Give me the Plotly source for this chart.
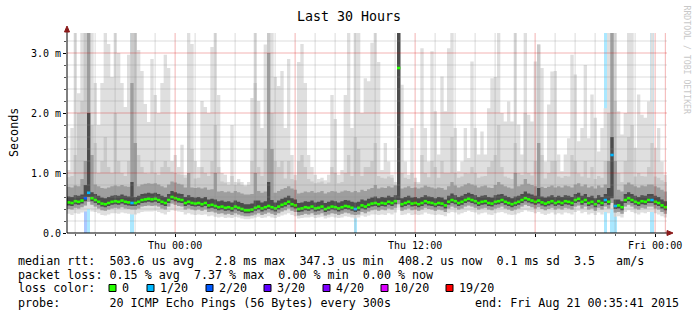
import pandas as pd
import plotly.graph_objects as go

# ---------------- data (10-minute columns) ----------------
START = pd.Timestamp("2015-08-19 18:35:41")
END = pd.Timestamp("2015-08-21 00:35:41")
STEP_MIN = 10

# median round trip time, ms
rtt_median = [
    0.51, 0.50, 0.53, 0.52, 0.54, 0.58, 0.67, 0.58, 0.55, 0.52,
    0.49, 0.48, 0.50, 0.52, 0.53, 0.52, 0.54, 0.52, 0.51, 0.50,
    0.50, 0.52, 0.55, 0.56, 0.57, 0.56, 0.57, 0.55, 0.52, 0.50,
    0.55, 0.60, 0.58, 0.56, 0.55, 0.50, 0.52, 0.50, 0.49, 0.50,
    0.48, 0.50, 0.46, 0.47, 0.45, 0.43, 0.44, 0.42, 0.43, 0.41,
    0.44, 0.42, 0.40, 0.38, 0.38, 0.39, 0.42, 0.44, 0.41, 0.43,
    0.45, 0.43, 0.41, 0.44, 0.47, 0.49, 0.52, 0.48, 0.46, 0.40,
    0.41, 0.43, 0.42, 0.44, 0.41, 0.42, 0.44, 0.40, 0.42, 0.44,
    0.43, 0.41, 0.43, 0.45, 0.44, 0.42, 0.40, 0.42, 0.46, 0.44,
    0.47, 0.49, 0.50, 0.48, 0.50, 0.49, 0.52, 0.50, 0.53, 2.75,
    0.48, 0.50, 0.52, 0.49, 0.50, 0.48, 0.50, 0.53, 0.51, 0.50,
    0.48, 0.50, 0.49, 0.46, 0.52, 0.55, 0.53, 0.50, 0.52, 0.55,
    0.57, 0.55, 0.53, 0.50, 0.52, 0.53, 0.50, 0.49, 0.52, 0.53,
    0.55, 0.52, 0.50, 0.48, 0.50, 0.52, 0.55, 0.58, 0.56, 0.54,
    0.52, 0.54, 0.51, 0.49, 0.51, 0.53, 0.50, 0.52, 0.50, 0.53,
    0.52, 0.50, 0.55, 0.57, 0.52, 0.55, 0.50, 0.52, 0.48, 0.53,
    0.50, 0.55, 0.52, 1.30, 0.45, 0.46, 0.43, 0.55, 0.58, 0.55,
    0.52, 0.50, 0.53, 0.52, 0.55, 0.55, 0.52, 0.50, 0.46, 0.43,
]

# fastest ping
rtt_min = [
    0.32, 0.30, 0.33, 0.32, 0.34, 0.36, 0.40, 0.36, 0.35, 0.33,
    0.30, 0.29, 0.31, 0.33, 0.33, 0.32, 0.34, 0.33, 0.32, 0.31,
    0.31, 0.33, 0.35, 0.36, 0.36, 0.36, 0.37, 0.35, 0.33, 0.31,
    0.35, 0.38, 0.37, 0.36, 0.35, 0.31, 0.33, 0.31, 0.30, 0.31,
    0.30, 0.31, 0.28, 0.29, 0.27, 0.26, 0.27, 0.25, 0.26, 0.25,
    0.27, 0.26, 0.24, 0.23, 0.23, 0.24, 0.26, 0.27, 0.25, 0.26,
    0.28, 0.26, 0.25, 0.27, 0.29, 0.31, 0.33, 0.30, 0.28, 0.24,
    0.25, 0.26, 0.26, 0.27, 0.25, 0.26, 0.27, 0.24, 0.26, 0.27,
    0.26, 0.25, 0.26, 0.28, 0.27, 0.26, 0.24, 0.26, 0.29, 0.27,
    0.29, 0.31, 0.31, 0.30, 0.31, 0.30, 0.33, 0.31, 0.34, 0.42,
    0.30, 0.31, 0.33, 0.30, 0.31, 0.30, 0.31, 0.34, 0.32, 0.31,
    0.30, 0.31, 0.30, 0.28, 0.33, 0.35, 0.34, 0.31, 0.33, 0.35,
    0.37, 0.35, 0.34, 0.31, 0.33, 0.34, 0.31, 0.30, 0.33, 0.34,
    0.35, 0.33, 0.31, 0.30, 0.31, 0.33, 0.35, 0.38, 0.36, 0.35,
    0.33, 0.35, 0.32, 0.30, 0.32, 0.34, 0.31, 0.33, 0.31, 0.34,
    0.33, 0.31, 0.35, 0.37, 0.33, 0.35, 0.31, 0.33, 0.30, 0.34,
    0.31, 0.35, 0.33, 0.40, 0.27, 0.28, 0.26, 0.35, 0.38, 0.35,
    0.33, 0.31, 0.34, 0.33, 0.35, 0.35, 0.33, 0.31, 0.28, 0.26,
]

# lower smoke (roughly 2nd-3rd fastest)
rtt_lo = [
    0.40, 0.39, 0.42, 0.41, 0.43, 0.46, 0.52, 0.47, 0.44, 0.41,
    0.38, 0.37, 0.39, 0.41, 0.42, 0.41, 0.43, 0.41, 0.40, 0.39,
    0.39, 0.41, 0.44, 0.45, 0.46, 0.45, 0.46, 0.44, 0.41, 0.39,
    0.44, 0.49, 0.47, 0.45, 0.44, 0.39, 0.41, 0.39, 0.38, 0.39,
    0.37, 0.39, 0.35, 0.36, 0.34, 0.32, 0.33, 0.31, 0.32, 0.30,
    0.33, 0.31, 0.29, 0.28, 0.28, 0.29, 0.31, 0.33, 0.30, 0.32,
    0.34, 0.32, 0.30, 0.33, 0.36, 0.38, 0.41, 0.37, 0.35, 0.29,
    0.30, 0.32, 0.31, 0.33, 0.30, 0.31, 0.33, 0.29, 0.31, 0.33,
    0.32, 0.30, 0.32, 0.34, 0.33, 0.31, 0.30, 0.31, 0.35, 0.33,
    0.36, 0.38, 0.39, 0.37, 0.39, 0.38, 0.41, 0.39, 0.42, 0.48,
    0.37, 0.39, 0.41, 0.38, 0.39, 0.37, 0.39, 0.42, 0.40, 0.39,
    0.37, 0.39, 0.38, 0.35, 0.41, 0.44, 0.42, 0.39, 0.41, 0.44,
    0.46, 0.44, 0.42, 0.39, 0.41, 0.42, 0.39, 0.38, 0.41, 0.42,
    0.44, 0.41, 0.39, 0.37, 0.39, 0.41, 0.44, 0.47, 0.45, 0.43,
    0.41, 0.43, 0.40, 0.38, 0.40, 0.42, 0.39, 0.41, 0.39, 0.42,
    0.41, 0.39, 0.44, 0.46, 0.41, 0.44, 0.39, 0.41, 0.37, 0.42,
    0.39, 0.44, 0.41, 0.50, 0.34, 0.35, 0.32, 0.44, 0.47, 0.44,
    0.41, 0.39, 0.42, 0.41, 0.44, 0.44, 0.41, 0.39, 0.35, 0.32,
]

# lower quartile
rtt_q1 = [
    0.46, 0.45, 0.48, 0.47, 0.49, 0.53, 0.60, 0.53, 0.50, 0.47,
    0.44, 0.43, 0.45, 0.47, 0.48, 0.47, 0.49, 0.47, 0.46, 0.45,
    0.45, 0.47, 0.50, 0.51, 0.52, 0.51, 0.52, 0.50, 0.47, 0.45,
    0.50, 0.55, 0.53, 0.51, 0.50, 0.45, 0.47, 0.45, 0.44, 0.45,
    0.43, 0.45, 0.41, 0.42, 0.40, 0.38, 0.39, 0.37, 0.38, 0.36,
    0.39, 0.37, 0.35, 0.33, 0.33, 0.34, 0.37, 0.39, 0.36, 0.38,
    0.40, 0.38, 0.36, 0.39, 0.42, 0.44, 0.47, 0.43, 0.41, 0.35,
    0.36, 0.38, 0.37, 0.39, 0.36, 0.37, 0.39, 0.35, 0.37, 0.39,
    0.38, 0.36, 0.38, 0.40, 0.39, 0.37, 0.35, 0.37, 0.41, 0.39,
    0.42, 0.44, 0.45, 0.43, 0.45, 0.44, 0.47, 0.45, 0.48, 0.55,
    0.43, 0.45, 0.47, 0.44, 0.45, 0.43, 0.45, 0.48, 0.46, 0.45,
    0.43, 0.45, 0.44, 0.41, 0.47, 0.50, 0.48, 0.45, 0.47, 0.50,
    0.52, 0.50, 0.48, 0.45, 0.47, 0.48, 0.45, 0.44, 0.47, 0.48,
    0.50, 0.47, 0.45, 0.43, 0.45, 0.47, 0.50, 0.53, 0.51, 0.49,
    0.47, 0.49, 0.46, 0.44, 0.46, 0.48, 0.45, 0.47, 0.45, 0.48,
    0.47, 0.45, 0.50, 0.52, 0.47, 0.50, 0.45, 0.47, 0.43, 0.48,
    0.45, 0.50, 0.47, 0.58, 0.40, 0.41, 0.38, 0.50, 0.53, 0.50,
    0.47, 0.45, 0.48, 0.47, 0.50, 0.50, 0.47, 0.45, 0.41, 0.38,
]

# upper quartile
rtt_q3 = [
    0.61, 0.60, 0.63, 0.62, 0.64, 0.80, 2.00, 0.68, 0.65, 0.62,
    0.59, 0.58, 0.60, 0.62, 0.63, 0.62, 0.64, 0.62, 0.61, 0.85,
    0.60, 0.62, 0.65, 0.66, 0.67, 0.66, 0.67, 0.65, 0.62, 0.60,
    0.65, 0.70, 0.68, 0.66, 0.65, 0.60, 0.63, 0.60, 0.59, 0.60,
    0.58, 0.60, 0.56, 0.57, 0.56, 0.53, 0.54, 0.52, 0.53, 0.51,
    0.54, 0.52, 0.50, 0.48, 0.48, 0.49, 0.54, 0.54, 0.51, 0.53,
    0.85, 0.55, 0.51, 0.54, 0.57, 0.59, 0.62, 0.58, 0.56, 0.50,
    0.51, 0.53, 0.52, 0.54, 0.51, 0.52, 0.54, 0.50, 0.52, 0.54,
    0.53, 0.51, 0.53, 0.55, 0.54, 0.52, 0.51, 0.52, 0.56, 0.54,
    0.57, 0.59, 0.61, 0.58, 0.60, 0.59, 0.62, 0.60, 0.63, 3.40,
    0.58, 0.60, 0.62, 0.59, 0.60, 0.58, 0.60, 0.63, 0.61, 0.60,
    0.58, 0.60, 0.59, 0.56, 0.62, 0.66, 0.63, 0.60, 0.62, 0.65,
    0.67, 0.65, 0.63, 0.60, 0.62, 0.63, 0.60, 0.59, 0.63, 0.64,
    0.65, 0.62, 0.60, 0.58, 0.61, 0.62, 0.65, 0.69, 0.66, 0.64,
    0.62, 0.75, 0.61, 0.59, 0.61, 0.63, 0.60, 0.62, 0.60, 0.63,
    0.62, 0.60, 0.65, 0.67, 0.62, 0.65, 0.60, 0.62, 0.58, 0.63,
    0.60, 0.65, 0.75, 1.60, 0.56, 0.56, 0.53, 0.65, 0.68, 0.65,
    0.62, 0.60, 0.63, 0.62, 0.65, 0.65, 0.62, 0.60, 0.56, 0.53,
]

# upper smoke (roughly 3rd slowest)
rtt_hi = [
    0.77, 0.76, 0.79, 0.78, 0.90, 1.20, 3.40, 1.30, 0.81, 0.78,
    0.75, 0.74, 0.76, 0.78, 0.79, 0.78, 0.80, 0.78, 0.77, 2.50,
    1.50, 0.78, 0.81, 0.82, 0.83, 0.82, 0.83, 0.81, 0.78, 0.76,
    0.81, 0.86, 0.84, 0.82, 0.81, 0.76, 1.00, 0.76, 0.75, 0.76,
    0.74, 0.76, 0.72, 0.73, 1.00, 0.69, 0.70, 0.68, 0.69, 0.67,
    0.70, 0.68, 0.66, 0.64, 0.64, 0.65, 1.00, 0.70, 0.67, 0.69,
    3.00, 1.40, 0.67, 0.70, 0.73, 0.75, 0.78, 0.74, 0.72, 0.66,
    0.67, 0.69, 0.68, 0.70, 0.67, 0.68, 0.70, 0.66, 0.68, 0.70,
    0.69, 0.67, 0.69, 0.71, 0.70, 0.68, 0.70, 0.68, 0.72, 0.70,
    0.73, 0.75, 0.80, 0.74, 0.76, 0.75, 0.78, 0.76, 0.79, 3.40,
    0.74, 0.76, 0.78, 0.75, 0.76, 0.74, 0.76, 0.79, 0.77, 0.76,
    0.74, 0.76, 0.75, 0.72, 0.78, 0.85, 0.79, 0.76, 0.78, 0.81,
    0.83, 0.81, 0.79, 0.76, 0.78, 0.79, 0.76, 0.75, 0.80, 0.85,
    0.81, 0.78, 0.76, 0.74, 1.00, 0.78, 0.81, 0.90, 0.82, 0.80,
    0.78, 1.50, 0.77, 0.75, 0.77, 0.79, 0.76, 0.78, 0.76, 0.79,
    0.78, 0.76, 0.81, 0.83, 0.78, 0.81, 0.76, 0.78, 0.74, 0.79,
    0.76, 0.81, 1.20, 3.40, 1.20, 0.72, 0.69, 0.81, 0.84, 0.81,
    0.78, 0.76, 0.79, 0.78, 0.81, 0.81, 0.78, 0.76, 0.72, 0.69,
]

# second slowest ping
rtt_2nd = [
    0.93, 0.95, 1.30, 2.00, 2.20, 3.40, 3.40, 1.80, 1.50, 1.00,
    1.20, 1.60, 1.10, 1.00, 2.00, 1.20, 1.00, 0.95, 1.20, 3.40,
    3.40, 1.30, 1.10, 1.00, 0.99, 1.20, 1.00, 0.97, 1.10, 1.20,
    1.10, 1.02, 1.00, 0.98, 0.97, 0.92, 2.00, 1.40, 0.91, 0.92,
    1.10, 1.00, 0.95, 1.20, 1.80, 1.10, 0.86, 0.84, 0.80, 0.95,
    0.80, 0.84, 0.80, 0.78, 0.80, 1.20, 2.50, 1.10, 0.95, 1.40,
    3.40, 2.00, 1.20, 1.10, 1.20, 0.91, 1.20, 0.90, 0.88, 1.20,
    1.30, 1.10, 0.90, 0.86, 0.83, 0.84, 0.86, 0.82, 0.84, 1.10,
    1.00, 0.83, 0.85, 1.00, 1.30, 0.95, 1.60, 1.40, 0.95, 1.10,
    1.10, 1.20, 1.50, 0.95, 0.92, 0.91, 0.94, 0.92, 0.80, 3.40,
    1.00, 0.92, 0.90, 1.00, 0.85, 0.82, 1.30, 1.00, 0.93, 1.20,
    1.10, 0.92, 1.20, 1.00, 1.00, 1.60, 1.00, 0.92, 0.94, 1.00,
    0.99, 1.10, 1.00, 0.92, 0.94, 0.95, 1.10, 1.20, 1.30, 1.80,
    1.10, 0.94, 0.92, 0.90, 1.50, 1.00, 0.97, 2.00, 1.00, 0.96,
    1.20, 3.14, 1.30, 0.91, 1.00, 1.20, 1.20, 0.94, 0.92, 0.95,
    0.94, 1.30, 1.20, 0.99, 0.94, 1.20, 0.92, 1.10, 0.90, 0.95,
    0.92, 1.20, 2.00, 3.40, 2.20, 1.00, 0.85, 1.20, 1.60, 1.80,
    0.94, 1.00, 0.95, 0.94, 1.10, 1.50, 0.94, 0.92, 0.88, 0.85,
]

# slowest ping
rtt_max = [
    1.05, 1.75, 3.40, 2.33, 3.40, 3.40, 3.40, 3.40, 2.50, 1.80,
    2.50, 3.40, 3.15, 2.60, 3.40, 3.00, 2.50, 2.10, 2.97, 3.40,
    3.40, 3.05, 2.70, 2.15, 1.85, 2.90, 2.30, 2.00, 2.50, 2.97,
    2.75, 1.20, 1.30, 1.10, 1.47, 0.97, 3.40, 3.15, 1.20, 1.10,
    2.20, 2.10, 2.00, 3.10, 3.40, 2.30, 1.00, 0.97, 0.85, 1.80,
    0.85, 0.90, 0.85, 0.80, 0.85, 2.25, 3.40, 2.20, 1.75, 3.14,
    3.40, 3.40, 2.60, 2.45, 2.70, 1.75, 2.90, 1.30, 0.97, 2.85,
    3.15, 2.50, 1.30, 1.10, 0.97, 0.90, 0.92, 0.88, 0.97, 2.30,
    1.90, 0.97, 1.05, 2.30, 3.40, 1.75, 3.40, 3.40, 2.00, 2.58,
    2.53, 3.17, 3.40, 2.85, 1.05, 1.50, 1.19, 0.97, 0.85, 3.40,
    2.47, 1.19, 0.97, 1.75, 0.92, 0.85, 3.08, 1.75, 1.19, 3.03,
    2.03, 1.31, 2.61, 2.03, 3.08, 3.40, 1.75, 1.03, 1.19, 1.75,
    1.25, 2.86, 1.75, 1.31, 1.69, 1.31, 2.08, 2.58, 2.60, 3.40,
    2.00, 1.86, 2.19, 1.86, 3.40, 1.81, 1.31, 3.40, 1.97, 1.86,
    2.86, 3.14, 2.75, 1.19, 2.14, 2.69, 2.70, 1.31, 1.03, 1.31,
    1.58, 2.97, 2.64, 1.53, 1.75, 2.80, 1.58, 2.31, 1.92, 1.36,
    1.75, 2.08, 3.40, 3.40, 3.40, 2.03, 1.64, 2.00, 3.40, 3.40,
    1.42, 2.31, 1.97, 1.92, 2.19, 3.40, 1.42, 1.75, 1.19, 0.97,
]

# lost pings out of 20
loss_count = [
    0, 0, 0, 0, 0, 2, 1, 0, 0, 0, 0, 0, 0, 0, 0, 0, 0, 0, 0, 1,
    0, 0, 0, 0, 0, 0, 0, 0, 0, 0, 0, 0, 0, 0, 0, 0, 0, 0, 0, 0,
    0, 0, 0, 0, 0, 0, 0, 0, 0, 0, 0, 0, 0, 0, 0, 0, 0, 0, 0, 0,
    0, 0, 0, 0, 0, 0, 0, 0, 0, 0, 0, 0, 0, 0, 0, 0, 0, 0, 0, 0,
    0, 0, 0, 0, 0, 0, 1, 0, 0, 0, 0, 0, 0, 0, 0, 0, 0, 0, 0, 0,
    0, 0, 0, 0, 0, 0, 0, 0, 0, 0, 0, 0, 0, 0, 0, 0, 0, 0, 0, 0,
    0, 0, 0, 0, 0, 0, 0, 0, 0, 0, 0, 0, 0, 0, 0, 0, 0, 0, 0, 0,
    0, 0, 0, 0, 0, 0, 0, 0, 0, 0, 0, 0, 0, 0, 0, 0, 0, 0, 0, 0,
    0, 1, 0, 1, 1, 0, 0, 0, 0, 0, 0, 0, 0, 0, 0, 1, 0, 0, 0, 0,
]

loss_levels = [0, 1, 2, 3, 4, 10, 19]
loss_labels = ["0", "1/20", "2/20", "3/20", "4/20", "10/20", "19/20"]
loss_colors = ["#26ff00", "#00b8ff", "#0059ff", "#5e00ff", "#7e00ff", "#dd00ff", "#ff0000"]

y_tick_values = [0, 1, 2, 3]
y_tick_labels = ["0.0", "1.0 m", "2.0 m", "3.0 m"]
x_tick_times = ["2015-08-20 00:00", "2015-08-20 06:00", "2015-08-20 12:00",
                "2015-08-20 18:00", "2015-08-21 00:00"]
x_tick_labels = ["Thu 00:00", "", "Thu 12:00", "", "Fri 00:00"]

legend_line1 = "median rtt:  503.6 us avg   2.8 ms max  347.3 us min  408.2 us now  0.1 ms sd  3.5   am/s"
legend_line2 = "packet loss: 0.15 % avg  7.37 % max  0.00 % min  0.00 % now"
legend_line3 = "loss color:"
legend_line4 = "probe:       20 ICMP Echo Pings (56 Bytes) every 300s"
legend_end = "end: Fri Aug 21 00:35:41 2015"

# ---------------- geometry ----------------
W_FIG, H_FIG = 697, 321
L, T, W, H = 67, 33, 600, 200
Y_TOP = 3.3333
MONO = "DejaVu Sans Mono"


def px(x):
    return (x - L) / W


def py(y):
    return (T + H - y) / H


def nb(s):
    return s.replace(" ", "\u00a0")


def loss_color(n):
    c = loss_colors[0]
    for lvl, col in zip(loss_levels, loss_colors):
        if n >= lvl:
            c = col
    return c


def rgba(hexc, a):
    h = hexc.lstrip("#")
    return "rgba(%d,%d,%d,%.2f)" % (int(h[0:2], 16), int(h[2:4], 16), int(h[4:6], 16), a)


n = len(rtt_median)
for arr in (rtt_min, rtt_lo, rtt_q1, rtt_q3, rtt_hi, rtt_2nd, rtt_max, loss_count):
    assert len(arr) == n, len(arr)

step = pd.Timedelta(minutes=STEP_MIN)
edges = [START + step * i for i in range(n + 1)]
centers = [START + step * (i + 0.5) for i in range(n)]

fig = go.Figure()

# loss background columns (bars are drawn below the smoke)
fig.add_trace(go.Bar(
    x=centers,
    y=[Y_TOP if c > 0 else None for c in loss_count],
    base=0,
    width=STEP_MIN * 60 * 1000,
    marker=dict(color=[rgba(loss_color(c), 0.33) for c in loss_count], line=dict(width=0)),
    hoverinfo="skip", showlegend=False,
))


def band(lower, upper, color):
    lo_ext = list(lower) + [lower[-1]]
    up_ext = list(upper) + [upper[-1]]
    fig.add_trace(go.Scatter(x=edges, y=lo_ext, mode="lines",
                             line=dict(width=0, shape="hv"),
                             hoverinfo="skip", showlegend=False))
    fig.add_trace(go.Scatter(x=edges, y=up_ext, mode="lines",
                             line=dict(width=0, shape="hv"),
                             fill="tonexty", fillcolor=color,
                             hoverinfo="skip", showlegend=False))


band(rtt_min, rtt_max, "#dfdfdf")
band(rtt_lo, rtt_2nd, "#cacaca")
band(rtt_lo, rtt_hi, "#9e9e9e")
band(rtt_q1, rtt_q3, "#4c4c4c")

# median segments coloured by loss
for lvl_col in loss_colors:
    xs, ys = [], []
    for i in range(n):
        if loss_color(loss_count[i]) == lvl_col:
            xs += [edges[i], edges[i + 1], None]
            ys += [rtt_median[i], rtt_median[i], None]
    if xs:
        fig.add_trace(go.Scatter(x=xs, y=ys, mode="lines",
                                 line=dict(color=lvl_col, width=2.6),
                                 hoverinfo="skip", showlegend=False))

# ---------------- grid (drawn on top, like rrdtool) ----------------
shapes = []
MINOR = "rgba(140,140,140,0.30)"
MAJOR = "rgba(215,0,0,0.30)"
for t in pd.date_range(START.ceil("h"), END, freq="h"):
    shapes.append(dict(type="line", xref="x", yref="paper", x0=t, x1=t, y0=0, y1=1,
                       line=dict(color=MAJOR if t.hour % 6 == 0 else MINOR, width=1),
                       layer="above"))
shapes.append(dict(type="line", xref="x", yref="paper",
                   x0=END - pd.Timedelta(minutes=5), x1=END - pd.Timedelta(minutes=5),
                   y0=0, y1=1, line=dict(color=MAJOR, width=1), layer="above"))
for k in range(1, 17):
    v = k * 0.2
    shapes.append(dict(type="line", xref="paper", yref="y", x0=0, x1=1, y0=v, y1=v,
                       line=dict(color=MAJOR if k % 5 == 0 else MINOR, width=1),
                       layer="above"))

# axis arrows
ARROW = "#8b1a1a"
shapes.append(dict(type="line", xref="paper", yref="paper", x0=px(67), x1=px(67),
                   y0=py(233), y1=py(29), line=dict(color="black", width=1), layer="above"))
shapes.append(dict(type="path", xref="paper", yref="paper",
                   path="M %f %f L %f %f L %f %f Z" % (px(64.5), py(32), px(69.5), py(32), px(67), py(26)),
                   fillcolor=ARROW, line=dict(color=ARROW, width=1), layer="above"))
shapes.append(dict(type="line", xref="paper", yref="paper", x0=px(67), x1=px(669),
                   y0=py(233), y1=py(233), line=dict(color="black", width=1), layer="above"))
shapes.append(dict(type="path", xref="paper", yref="paper",
                   path="M %f %f L %f %f L %f %f Z" % (px(667), py(230.5), px(667), py(235.5), px(673), py(233)),
                   fillcolor=ARROW, line=dict(color=ARROW, width=1), layer="above"))

# legend colour boxes
box_left = [109, 147, 206, 264, 323, 381, 446]
for bx, col in zip(box_left, loss_colors):
    shapes.append(dict(type="rect", xref="paper", yref="paper",
                       x0=px(bx), x1=px(bx + 7), y0=py(291.5), y1=py(284.5),
                       fillcolor=col, line=dict(color="black", width=1), layer="above"))

# ---------------- annotations ----------------
ann = []


def text(x, y, s, size, anchor="left", color="black", angle=0):
    ann.append(dict(x=px(x), y=py(y), xref="paper", yref="paper", text=nb(s),
                    showarrow=False, xanchor=anchor, yanchor="middle", textangle=angle,
                    font=dict(family=MONO, size=size, color=color), borderpad=0))


text(349, 16, "Last 30 Hours", 13.3, anchor="center")
text(14, 133, "Seconds", 11.7, anchor="center", angle=-90)
text(686.5, 60, "RRDTOOL / TOBI OETIKER", 8.2, anchor="center", color="#c8c8c8", angle=90)
text(16.7, 261, legend_line1, 11.7)
text(16.7, 275, legend_line2, 11.7)
text(16.7, 288, legend_line3, 11.7)
for bx, lab in zip(box_left, loss_labels):
    text(bx + 12, 288, lab, 11.7)
text(16.7, 302.5, legend_line4, 11.7)
text(680, 302.5, legend_end, 11.7, anchor="right")

fig.update_layout(
    width=W_FIG, height=H_FIG,
    margin=dict(l=L, r=W_FIG - L - W, t=T, b=H_FIG - T - H, pad=0),
    plot_bgcolor="white", paper_bgcolor="white",
    barmode="overlay", bargap=0,
    showlegend=False,
    shapes=shapes, annotations=ann,
    xaxis=dict(
        type="date", range=[START, END], showgrid=False, zeroline=False,
        showline=False, tickmode="array", tickvals=x_tick_times, ticktext=x_tick_labels,
        ticks="outside", ticklen=3, tickcolor="black",
        tickfont=dict(family=MONO, size=10, color="black"),
        minor=dict(dtick=3600000, tick0="2015-08-19 19:00", ticks="outside", ticklen=2,
                   tickcolor="#555555", showgrid=False),
    ),
    yaxis=dict(
        range=[0, Y_TOP], showgrid=False, zeroline=False, showline=False,
        tickmode="array", tickvals=y_tick_values, ticktext=y_tick_labels,
        ticks="outside", ticklen=3, tickcolor="black",
        tickfont=dict(family=MONO, size=10, color="black"),
        minor=dict(tickmode="linear", tick0=0, dtick=0.2, ticks="outside", ticklen=2,
                   tickcolor="#555555", showgrid=False),
    ),
)

fig.write_html("out.html", config={"displayModeBar": False})
